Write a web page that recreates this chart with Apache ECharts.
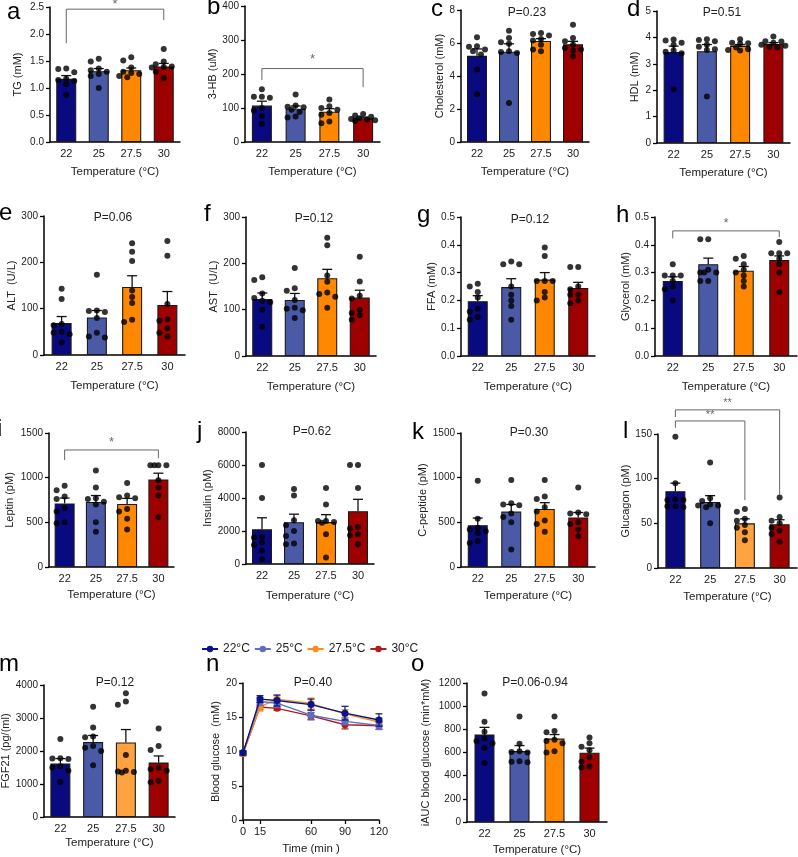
<!DOCTYPE html>
<html><head><meta charset="utf-8">
<script src="https://cdn.jsdelivr.net/npm/echarts@6/dist/echarts.min.js"></script>
<style>html,body{margin:0;padding:0;background:#fff}#c{width:798px;height:857px}</style>
</head><body><div id="c"></div>
<script>
// ---------------- DATA ----------------
const temps = ['22', '25', '27.5', '30'];
const tickLabelsTime = [0, 15, 60, 90, 120];

const tgMean = [1.17, 1.31, 1.33, 1.40];
const tgSem = [0.06, 0.05, 0.04, 0.055];
const tgDots = [[1.36, 1.35, 1.29, 1.17, 1.15, 1.13, 1.07, 0.87], [1.54, 1.49, 1.36, 1.33, 1.30, 1.26, 1.22, 1.00], [1.57, 1.51, 1.38, 1.30, 1.28, 1.26, 1.22, 1.20], [1.72, 1.49, 1.44, 1.40, 1.39, 1.38, 1.30, 1.18]];

const hbMean = [107, 98, 89, 70];
const hbSem = [13, 8, 9, 3];
const hbDots = [[155, 133, 133, 130, 100, 93, 76, 54], [140, 107, 104, 102, 95, 88, 75, 72], [125, 105, 100, 95, 85, 80, 60, 55], [82, 78, 74, 70, 68, 66, 64, 62]];

const cholMean = [5.22, 5.47, 6.12, 5.92];
const cholSem = [0.42, 0.48, 0.14, 0.18];
const cholDots = [[6.35, 5.80, 5.78, 5.60, 5.50, 5.30, 4.40, 2.90], [6.75, 6.30, 6.05, 5.95, 5.50, 5.45, 5.40, 2.37], [6.60, 6.55, 6.45, 6.25, 6.15, 5.90, 5.60, 5.50], [7.10, 6.30, 6.10, 5.90, 5.70, 5.60, 5.55, 5.20]];

const hdlMean = [3.45, 3.48, 3.68, 3.75];
const hdlSem = [0.22, 0.25, 0.05, 0.05];
const hdlDots = [[3.92, 3.88, 3.80, 3.72, 3.50, 3.46, 3.40, 2.04], [3.93, 3.90, 3.85, 3.72, 3.65, 3.55, 3.52, 1.76], [3.93, 3.80, 3.78, 3.76, 3.62, 3.55, 3.52, 3.50], [4.03, 3.85, 3.84, 3.80, 3.72, 3.68, 3.65, 3.62]];

const altMean = [69, 81, 147, 108];
const altSem = [14, 15, 24, 29];
const altDots = [[143, 121, 67, 64, 50, 48, 45, 27], [173, 96, 95, 93, 80, 48, 40, 38], [241, 223, 203, 139, 125, 112, 76, 71], [246, 214, 110, 77, 74, 58, 48, 40]];

const astMean = [123, 121, 168, 126];
const astSem = [13, 14, 19, 16];
const astDots = [[170, 164, 135, 125, 119, 116, 100, 63], [190, 146, 141, 121, 104, 102, 99, 82], [255, 239, 174, 160, 137, 134, 128, 104], [214, 161, 130, 124, 100, 93, 88, 78]];

const ffaMean = [0.197, 0.248, 0.275, 0.245];
const ffaSem = [0.02, 0.03, 0.025, 0.02];
const ffaDots = [[0.26, 0.25, 0.23, 0.21, 0.17, 0.16, 0.14, 0.13], [0.34, 0.33, 0.33, 0.25, 0.22, 0.20, 0.18, 0.13], [0.39, 0.36, 0.27, 0.27, 0.27, 0.23, 0.21, 0.20], [0.32, 0.32, 0.25, 0.24, 0.22, 0.22, 0.20, 0.19]];

const glyMean = [0.27, 0.33, 0.307, 0.345];
const glySem = [0.015, 0.022, 0.015, 0.015];
const glyDots = [[0.33, 0.29, 0.29, 0.29, 0.27, 0.25, 0.24, 0.20], [0.42, 0.42, 0.31, 0.30, 0.30, 0.30, 0.27, 0.27], [0.36, 0.35, 0.33, 0.31, 0.30, 0.29, 0.27, 0.25], [0.41, 0.37, 0.37, 0.37, 0.35, 0.33, 0.30, 0.23]];

const lepMean = [712, 728, 706, 980];
const lepSem = [60, 72, 62, 70];
const lepDots = [[910, 860, 790, 760, 660, 620, 500, 490], [1080, 890, 770, 760, 730, 700, 500, 395], [940, 800, 780, 770, 650, 620, 540, 420], [1140, 1140, 1140, 1140, 970, 890, 800, 560]];

const insMean = [2100, 2530, 2540, 3200];
const insSem = [700, 490, 450, 720];
const insDots = [[6000, 4000, 1650, 1600, 1300, 1150, 800, 300], [4550, 4150, 2650, 2350, 2000, 1700, 1250, 1200], [4600, 3600, 2600, 2600, 2550, 2500, 1800, 400], [6000, 6000, 4600, 2250, 2150, 1800, 1750, 1200]];

const cpMean = [468, 620, 650, 555];
const cpSem = [80, 80, 70, 55];
const cpDots = [[965, 540, 440, 420, 400, 380, 290, 270], [975, 715, 700, 690, 600, 560, 500, 195], [975, 790, 760, 670, 620, 520, 480, 395], [890, 610, 600, 590, 500, 480, 420, 345]];

const gcgMean = [86, 74, 50, 49];
const gcgSem = [9, 7, 5, 5];
const gcgDots = [[147, 95, 77, 76, 76, 69, 69, 68], [118, 78, 75, 71, 70, 70, 68, 50], [66, 63, 55, 53, 48, 45, 40, 31], [79, 57, 53, 50, 45, 42, 38, 29]];

const fgfMean = [1620, 2270, 2260, 1650];
const fgfSem = [150, 200, 390, 200];
const fgfDots = [[2360, 1780, 1770, 1760, 1500, 1540, 1400, 1060], [3340, 2710, 2440, 2420, 2150, 2100, 2000, 1570], [3750, 3500, 3400, 1880, 1400, 1380, 1360, 1350], [2680, 2150, 2030, 1490, 1450, 1400, 1100, 1050]];

const aucMean = [755, 612, 720, 598];
const aucSem = [62, 48, 35, 40];
const aucDots = [[1110, 865, 780, 720, 700, 680, 640, 510], [910, 675, 610, 605, 600, 525, 520, 515], [910, 785, 775, 710, 700, 680, 610, 600], [730, 680, 650, 620, 560, 520, 480, 470]];

// OGTT (panel n)
const ogttTimes = [0, 15, 30, 60, 90, 120];
const ogttNames = ['22°C', '25°C', '27.5°C', '30°C'];
const ogtt22 = [9.8, 17.65, 17.45, 16.85, 15.6, 14.6];
const ogtt25 = [9.8, 17.3, 17.05, 15.3, 14.4, 13.8];
const ogtt275 = [9.7, 16.5, 17.65, 17.0, 15.5, 14.3];
const ogtt30 = [9.7, 16.5, 16.3, 15.2, 13.9, 13.75];
const ogttSem22 = [0.3, 0.5, 0.8, 0.8, 1.0, 0.9];
const ogttSem25 = [0.3, 0.6, 0.6, 0.7, 0.5, 0.6];
const ogttSem275 = [0.3, 0.6, 0.5, 0.8, 0.6, 0.6];
const ogttSem30 = [0.3, 0.4, 0.3, 0.5, 0.6, 0.5];

// significance brackets: [fromIdx, toIdx, leftFoot, top, rightFoot, label-value, label]
const brA = [[0, 3, 1.83, 2.46, 2.26, 2.54, '*']];
const brB = [[0, 3, 182, 216, 161, 243, '*']];
const brH = [[0, 3, 0.423, 0.45, 0.427, 0.477, '*']];
const brI = [[0, 3, 1198, 1310, 1217, 1392, '*']];
const brL = [[0, 3, 169, 177, 82, 184.5, '**'], [0, 2, 157, 164.6, 76, 171.5, '**']];

// ---------------- STYLE / LAYOUT ----------------
const FONT = "'Liberation Sans', Arial, sans-serif";
const C22 = '#0a0a80', C25 = '#4b5aa6', C275 = '#ff8800', C30 = '#9e0000', C275L = '#ffa240';
const barCols = [C22, C25, C275, C30];
const barColsLight = [C22, C25, C275L, C30];

const panels = [
  {L:'a', lx:7, ly:12.3, g:[50,7,130,135], ymax:2.5, step:0.5, dec:1, yname:'TG (mM)', yg:27, xg:24, mean:tgMean, sem:tgSem, dots:tgDots, br:brA},
  {L:'b', lx:207, ly:7.6, g:[245,6,135,136], ymax:400, step:100, yname:'3-HB (uM)', yg:18, xg:24, mean:hbMean, sem:hbSem, dots:hbDots, br:brB},
  {L:'c', lx:431, ly:9.6, g:[461,10,128,132], ymax:8, step:2, yname:'Cholesterol (mM)', yg:16, xg:24, mean:cholMean, sem:cholSem, dots:cholDots, P:['P=0.23',527,13]},
  {L:'d', lx:627, ly:9.6, g:[657,11,133,132], ymax:5, step:1, yname:'HDL (mM)', yg:17, xg:24, mean:hdlMean, sem:hdlSem, dots:hdlDots, P:['P=0.51',722,13]},
  {L:'e', lx:-1, ly:213.6, g:[44,216,141,139], ymax:300, step:100, yname:'ALT  (U/L)', yg:26, xg:25, mean:altMean, sem:altSem, dots:altDots, P:['P=0.06',113,218]},
  {L:'f', lx:204, ly:214.6, g:[246,217,130,139], ymax:300, step:100, yname:'AST  (U/L)', yg:26, xg:25, mean:astMean, sem:astSem, dots:astDots, P:['P=0.12',314,219]},
  {L:'g', lx:417, ly:215.6, g:[461,217,134,139], ymax:0.5, step:0.1, dec:1, yname:'FFA (mM)', yg:23, xg:25, mean:ffaMean, sem:ffaSem, dots:ffaDots, P:['P=0.12',530,220]},
  {L:'h', lx:616, ly:215.6, g:[655,217,142,139], ymax:0.5, step:0.1, dec:1, yname:'Glycerol (mM)', yg:21, xg:25, mean:glyMean, sem:glySem, dots:glyDots, br:brH},
  {L:'i', lx:-3, ly:429.6, g:[49,433,125,134], ymax:1500, step:500, yname:'Leptin (pM)', yg:34, xg:22, mean:lepMean, sem:lepSem, dots:lepDots, br:brI},
  {L:'j', lx:197, ly:431.6, g:[246,432,128,132], ymax:8000, step:2000, yname:'Insulin (pM)', yg:31, xg:26, mean:insMean, sem:insSem, dots:insDots, P:['P=0.62',312,432]},
  {L:'k', lx:412, ly:432.6, g:[461,433,134,134], ymax:1500, step:500, yname:'C-peptide (pM)', yg:31, xg:23, mean:cpMean, sem:cpSem, dots:cpDots, P:['P=0.30',529,433]},
  {L:'l', lx:623, ly:431.6, g:[658,434,139,134], ymax:150, step:50, yname:'Glucagon (pM)', yg:22, xg:23, mean:gcgMean, sem:gcgSem, dots:gcgDots, br:brL, light:true},
  {L:'m', lx:-1, ly:664.6, g:[44,685,131,132], ymax:4000, step:1000, yname:'FGF21 (pg/(ml)', yg:27, xg:20, mean:fgfMean, sem:fgfSem, dots:fgfDots, P:['P=0.12',115,683], light:true},
  {L:'n', lx:206, ly:664.6, g:[243,683,136,137], ymax:20, step:5, yname:'Blood glucose  (mM)', yg:22, xg:23, ogtt:true, P:['P=0.40',313,683]},
  {L:'o', lx:411, ly:664.6, g:[467,683,140,139], ymax:1200, step:200, yname:'iAUC blood glucose (min*mM)', yg:36, xg:22, mean:aucMean, sem:aucSem, dots:aucDots, P:['P=0.06-0.94',535,683]}
];

// simple beeswarm: spread dots with similar values sideways (rows of up to 3)
function swarm(vals, pxPerUnit, pxPerX, gi) {
  const s = 8, minD = 5.2;
  const cands = [0, -1, 1, -0.5, 0.5, -1.5, 1.5];
  const placed = [];
  const order = vals.map((v, i) => i).sort((a, b) => vals[b] - vals[a]);
  const out = [];
  for (const i of order) {
    const y = vals[i] * pxPerUnit;
    let off = 0, best = null, bestD = -1;
    for (const c of cands) {
      const x = c * s;
      const d = placed.length ? Math.min(...placed.map(p => Math.hypot(p.x - x, p.y - y))) : 99;
      if (d >= minD) { best = x; break; }
      if (d > bestD) { bestD = d; off = x; }
    }
    if (best !== null) off = best;
    placed.push({x: off, y});
    out.push([gi + off / pxPerX, vals[i]]);
  }
  return out;
}

const axisLineStyle = {color: '#000', width: 1.5};
const grid = [], xAxis = [], yAxis = [], series = [], graphic = [];

panels.forEach((p, k) => {
  const [gl, gt, gw, gh] = p.g;
  grid.push({left: gl, top: gt, width: gw, height: gh, outerBoundsMode: 'none', containLabel: false});
  if (p.ogtt) {
    xAxis.push({type: 'value', gridIndex: k, min: 0, max: 120, interval: 15,
      axisLine: {show: true, onZero: false, lineStyle: axisLineStyle}, splitLine: {show: false},
      axisTick: {show: true, length: 4, lineStyle: {color: '#000', width: 1.3}, customValues: tickLabelsTime},
      axisLabel: {fontSize: 11, color: '#222', fontFamily: FONT, margin: 6, customValues: tickLabelsTime},
      name: 'Time (min )', nameLocation: 'middle', nameGap: p.xg, nameTextStyle: {fontSize: 11.5, color: '#222', fontFamily: FONT}});
  } else {
    xAxis.push({type: 'category', gridIndex: k, data: temps, boundaryGap: true,
      axisLine: {show: true, onZero: false, lineStyle: axisLineStyle}, axisTick: {show: false},
      axisLabel: {fontSize: 11, color: '#222', fontFamily: FONT, margin: 6, interval: 0},
      name: 'Temperature (°C)', nameLocation: 'middle', nameGap: p.xg, nameTextStyle: {fontSize: 11.5, color: '#222', fontFamily: FONT}});
  }
  xAxis.push({type: 'value', gridIndex: k, min: -0.5, max: 3.5, show: false, axisLine: {onZero: false}});
  yAxis.push({type: 'value', gridIndex: k, min: 0, max: p.ymax, interval: p.step,
    axisLine: {show: true, onZero: false, lineStyle: axisLineStyle}, splitLine: {show: false},
    axisTick: {show: true, length: 4, lineStyle: {color: '#000', width: 1.3}},
    axisLabel: {fontSize: 10, color: '#222', fontFamily: FONT, margin: 6,
      formatter: v => p.dec ? v.toFixed(p.dec) : String(v)},
    name: p.yname, nameLocation: 'middle', nameGap: p.yg, nameRotate: 90,
    nameTextStyle: {fontSize: 11, color: '#222', fontFamily: FONT}});

  graphic.push({type: 'text', x: p.lx, y: p.ly, style: {text: p.L, font: '24px ' + FONT, fill: '#000', verticalAlign: 'middle', align: 'left'}});
  if (p.P) graphic.push({type: 'text', x: p.P[1], y: p.P[2], style: {text: p.P[0], font: '12px ' + FONT, fill: '#222', align: 'center', verticalAlign: 'middle'}});

  const hx = 2 * k + 1;
  if (!p.ogtt) {
    const cols = p.light ? barColsLight : barCols;
    series.push({type: 'bar', xAxisIndex: 2 * k, yAxisIndex: k, barWidth: 20, silent: true,
      data: p.mean.map((m, i) => ({value: m, itemStyle: {color: cols[i], borderColor: '#1a1a1a', borderWidth: 1.1}})), z: 2});
    series.push({type: 'custom', xAxisIndex: hx, yAxisIndex: k, z: 3, silent: true,
      data: p.mean.map((m, i) => [i, m, p.sem[i]]), encode: {x: 0, y: 1},
      renderItem: (params, api) => {
        const x = api.value(0), m = api.value(1), s = api.value(2);
        const a = api.coord([x, m]), b = api.coord([x, m + s]);
        const st = {stroke: '#111', lineWidth: 1.3};
        return {type: 'group', children: [
          {type: 'line', shape: {x1: a[0], y1: a[1], x2: b[0], y2: b[1]}, style: st},
          {type: 'line', shape: {x1: b[0] - 5, y1: b[1], x2: b[0] + 5, y2: b[1]}, style: st}]};
      }});
    const pxU = gh / p.ymax, pxX = gw / 4;
    let pts = [];
    p.dots.forEach((arr, gi) => { pts = pts.concat(swarm(arr, pxU, pxX, gi)); });
    series.push({type: 'scatter', xAxisIndex: hx, yAxisIndex: k, symbolSize: 6, silent: true,
      itemStyle: {color: '#000'}, data: pts, z: 4});
    (p.br || []).forEach(b => {
      series.push({type: 'line', xAxisIndex: hx, yAxisIndex: k, clip: false, symbol: 'none', silent: true,
        lineStyle: {color: '#666', width: 1}, z: 5,
        data: [[b[0], b[2]], [b[0], b[3]], [b[1], b[3]], [b[1], b[4]]]});
      series.push({type: 'scatter', xAxisIndex: hx, yAxisIndex: k, clip: false, symbolSize: 1, silent: true,
        itemStyle: {color: 'rgba(0,0,0,0)'}, z: 5,
        label: {show: true, position: 'inside', formatter: b[6], fontSize: b[6].length > 1 ? 11 : 13, color: '#444', fontFamily: FONT},
        data: [[(b[0] + b[1]) / 2, b[5]]]});
    });
  } else {
    const groups = [
      {name: ogttNames[3], v: ogtt30, s: ogttSem30, c: '#b01c1c'},
      {name: ogttNames[2], v: ogtt275, s: ogttSem275, c: '#ff8c1a'},
      {name: ogttNames[1], v: ogtt25, s: ogttSem25, c: '#5f6fc0'},
      {name: ogttNames[0], v: ogtt22, s: ogttSem22, c: '#0a1486'}];
    groups.forEach((gr, gi) => {
      series.push({type: 'custom', name: gr.name + ' SEM', xAxisIndex: 2 * k, yAxisIndex: k, z: 3 + gi, silent: true,
        data: ogttTimes.map((t, i) => [t, gr.v[i], gr.s[i]]), encode: {x: 0, y: 1},
        renderItem: (params, api) => {
          const x = api.value(0), m = api.value(1), s = api.value(2);
          const a = api.coord([x, m - s]), b = api.coord([x, m + s]);
          const st = {stroke: gr.c, lineWidth: 1.2};
          return {type: 'group', children: [
            {type: 'line', shape: {x1: a[0], y1: a[1], x2: b[0], y2: b[1]}, style: st},
            {type: 'line', shape: {x1: a[0] - 3.5, y1: a[1], x2: a[0] + 3.5, y2: a[1]}, style: st},
            {type: 'line', shape: {x1: b[0] - 3.5, y1: b[1], x2: b[0] + 3.5, y2: b[1]}, style: st}]};
        }});
      series.push({type: 'line', name: gr.name, xAxisIndex: 2 * k, yAxisIndex: k, z: 3 + gi, silent: true,
        symbol: 'circle', symbolSize: 7, showSymbol: true,
        lineStyle: {color: gr.c, width: 1.4}, itemStyle: {color: gr.c},
        data: ogttTimes.map((t, i) => [t, gr.v[i]])});
    });
  }
});

const chart = echarts.init(document.getElementById('c'), null, {renderer: 'canvas'});
chart.setOption({
  animation: false,
  backgroundColor: '#fff',
  textStyle: {fontFamily: FONT},
  grid, xAxis, yAxis, series, graphic,
  legend: {data: ogttNames, left: 196, top: 638, itemWidth: 16, itemHeight: 8, itemGap: 4,
    textStyle: {fontSize: 12, color: '#222', fontFamily: FONT}, selectedMode: false}
});
</script></body></html>
